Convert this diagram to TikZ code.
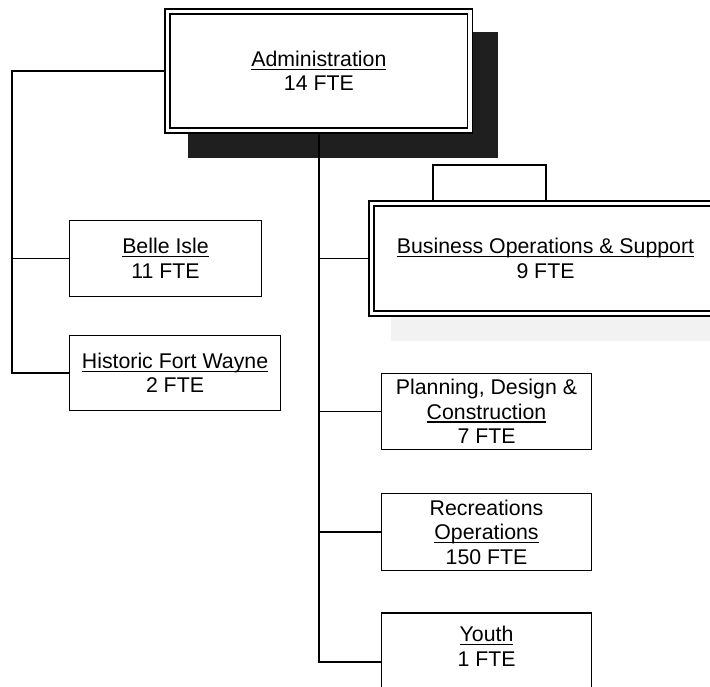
\documentclass[tikz,border=0pt]{standalone}
\usepackage{fontspec}
\setmainfont{Liberation Sans}
\usetikzlibrary{calc}
\pgfdeclarelayer{back}
\pgfsetlayers{back,main}
% underline that sits just below the baseline and ignores descenders
\newsavebox\ulnbox
\newcommand\uln[1]{\sbox\ulnbox{#1}\rlap{\rule[-3.3pt]{\wd\ulnbox}{1.1pt}}\usebox\ulnbox}
\begin{document}
\begin{tikzpicture}[x=1pt,y=-1pt,
  every node/.style={font=\fontsize{21.3}{24.5}\selectfont, align=center, inner sep=0pt},
  unitbox/.style={draw, line width=1.4pt, fill=white},
  headbox/.style={draw, line width=1.7pt, double=white, double distance=3.3pt, fill=white},
  link/.style={line width=1.3pt},
  darkshadow/.style={fill=black!88},
  paleshadow/.style={fill=black!5}]
\useasboundingbox (0,0) rectangle (710,686);

% units
\node[headbox, minimum width=302.2pt, minimum height=118.5pt] (adm) at (318.9,70.9)
  {\uln{Administration}\\14 FTE};
\node[headbox, minimum width=347.6pt, minimum height=109.8pt] (bos) at (545.5,258.6)
  {\uln{Business Operations \& Support}\\9 FTE};
\node[unitbox, minimum width=192pt, minimum height=76pt] (belle) at (165.5,258.5)
  {\uln{Belle Isle}\\11 FTE};
\node[unitbox, minimum width=211pt, minimum height=75pt] (fort) at (175,373)
  {\uln{Historic Fort Wayne}\\2 FTE};
\node[unitbox, minimum width=210pt, minimum height=76pt] (pdc) at (486.5,411.5)
  {Planning, Design \&\\\uln{Construction}\\7 FTE};
\node[unitbox, minimum width=210pt, minimum height=77pt] (rec) at (486.5,532)
  {Recreations\\\uln{Operations}\\150 FTE};
% this box runs on below the page edge
\node[unitbox, minimum width=210pt, minimum height=147pt] (youth) at (486.5,686.5)
  {\uln{Youth}\\1 FTE\\\strut\\\strut\\\strut};

\coordinate (lrail) at (12,0);
\coordinate (bkL) at (433,165);
\coordinate (bkR) at (546,165);
\coordinate (ytap) at (0,662);

\begin{pgfonlayer}{back}
  % shadows
  \fill[darkshadow] ($(adm.north west)+(21,21)$) rectangle ($(adm.south east)+(27,27)$);
  \fill[paleshadow] ($(bos.north west)+(20.5,20.5)$) rectangle ($(bos.south east)+(26.5,26.5)$);
  % left branch
  \draw[link] (adm.west) -- (lrail |- adm.west) |- (fort.west);
  \draw[link] (lrail |- belle.west) -- (belle.west);
  % centre branch
  \draw[link] (adm.south) |- (youth.west |- ytap);
  \draw[link] (adm.south |- bos.west) -- (bos.west);
  \draw[link] (adm.south |- pdc.west) -- (pdc.west);
  \draw[link] (adm.south |- rec.west) -- (rec.west);
  % bracket over business operations
  \draw[link] (bkL |- bos.north) -- (bkL) -- (bkR) -- (bkR |- bos.north);
\end{pgfonlayer}
\end{tikzpicture}
\end{document}
